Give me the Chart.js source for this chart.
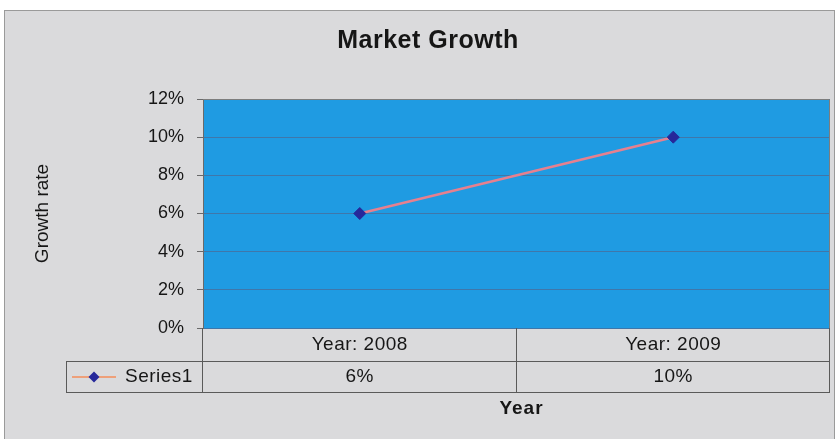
<!DOCTYPE html>
<html>
<head>
<meta charset="utf-8">
<title>Market Growth</title>
<script src="https://cdn.jsdelivr.net/npm/chart.js@4.4.1/dist/chart.umd.min.js"></script>
<style>
  html, body { margin: 0; padding: 0; background: #ffffff; }
  #wrap { width: 837px; height: 439px; }
</style>
</head>
<body>
<div id="wrap"><canvas id="chart" width="837" height="439"></canvas></div>
<script>
// ---- data ---------------------------------------------------------------
const years = ['2008', '2009'];
const categoryLabels = years.map((y) => 'Year: ' + y);
const seriesName = 'Series1';
const growthRates = [0.06, 0.10];
const yTickValues = [0, 0.02, 0.04, 0.06, 0.08, 0.10, 0.12];

// ---- look ---------------------------------------------------------------
const PAGE_BG = '#dadadc';
const PLOT_BG = '#1f9be2';
const GRID_BLUE = '#3f77aa';
const AXIS_GRAY = '#6a6a6a';
const TABLE_LINE = '#5a5a5a';
const INK = '#161616';
const LINE_COLOR = '#e6808f';
const MARKER_COLOR = '#26289a';
const FONT = '"Liberation Sans", Arial, sans-serif';

const pct = (v) => Math.round(v * 100) + '%';

function drawDiamond(ctx, x, y, r) {
  ctx.beginPath();
  ctx.moveTo(x, y - r);
  ctx.lineTo(x + r, y);
  ctx.lineTo(x, y + r);
  ctx.lineTo(x - r, y);
  ctx.closePath();
  ctx.fill();
}

// page frame, chart title and plot fill, underneath the grid
const backdrop = {
  id: 'backdrop',
  beforeDraw(chart) {
    const { ctx, chartArea: a, width, height } = chart;
    ctx.save();
    ctx.fillStyle = '#ffffff';
    ctx.fillRect(0, 0, width, height);
    ctx.fillStyle = PAGE_BG;
    ctx.fillRect(4, 10, width - 6, height - 10);
    ctx.strokeStyle = '#9a9a9a';
    ctx.lineWidth = 1;
    ctx.strokeRect(4.5, 10.5, width - 7, height);
    ctx.fillStyle = PLOT_BG;
    ctx.fillRect(a.left, a.top, a.right - a.left, a.bottom - a.top);

    ctx.fillStyle = INK;
    ctx.font = 'bold 25px ' + FONT;
    ctx.letterSpacing = '0.5px';
    ctx.textAlign = 'center';
    ctx.textBaseline = 'middle';
    ctx.fillText('Market Growth', 428, 41);
    ctx.restore();
  },
  afterDatasetsDraw(chart) {
    const { ctx, chartArea: a } = chart;
    ctx.save();
    ctx.strokeStyle = '#7d7d7d';
    ctx.lineWidth = 1;
    ctx.beginPath();
    ctx.moveTo(a.left, a.top + 0.5);
    ctx.lineTo(a.right - 0.5, a.top + 0.5);
    ctx.lineTo(a.right - 0.5, a.bottom);
    ctx.stroke();
    ctx.restore();
  }
};

// Excel-style data table under the plot: category row, series row, axis title
const dataTable = {
  id: 'dataTable',
  afterDraw(chart) {
    const { ctx, chartArea: a } = chart;
    const xs = chart.scales.x;
    const step = xs.getPixelForValue(1) - xs.getPixelForValue(0);
    const row1Top = a.bottom;
    const row2Top = a.bottom + 33;
    const row2Bottom = a.bottom + 64;
    const legendLeft = 66;

    ctx.save();
    ctx.strokeStyle = TABLE_LINE;
    ctx.lineWidth = 1;
    ctx.beginPath();
    // horizontals
    ctx.moveTo(legendLeft, row2Top + 0.5);
    ctx.lineTo(a.right, row2Top + 0.5);
    ctx.moveTo(legendLeft, row2Bottom + 0.5);
    ctx.lineTo(a.right, row2Bottom + 0.5);
    // legend cell left edge
    ctx.moveTo(legendLeft + 0.5, row2Top);
    ctx.lineTo(legendLeft + 0.5, row2Bottom);
    // category boundaries
    const bounds = [a.left];
    years.forEach((_, i) => bounds.push(xs.getPixelForValue(i) + step / 2));
    bounds.forEach((bx) => {
      const x = Math.round(bx) - 0.5;
      ctx.moveTo(x, row1Top);
      ctx.lineTo(x, row2Bottom + 1);
    });
    ctx.stroke();

    ctx.fillStyle = INK;
    ctx.font = '19px ' + FONT;
    ctx.letterSpacing = '0.5px';
    ctx.textAlign = 'center';
    ctx.textBaseline = 'middle';
    categoryLabels.forEach((lab, i) => {
      ctx.fillText(lab, xs.getPixelForValue(i), row1Top + 17);
    });
    growthRates.forEach((v, i) => {
      ctx.fillText(pct(v), xs.getPixelForValue(i), row2Top + 16);
    });

    // legend key
    const ky = row2Top + 16;
    ctx.strokeStyle = '#eea07a';
    ctx.lineWidth = 2;
    ctx.beginPath();
    ctx.moveTo(72, ky);
    ctx.lineTo(116, ky);
    ctx.stroke();
    ctx.fillStyle = MARKER_COLOR;
    drawDiamond(ctx, 94, ky, 5.5);
    ctx.fillStyle = INK;
    ctx.textAlign = 'left';
    ctx.fillText(seriesName, 125, ky);

    // axis title
    ctx.font = 'bold 19px ' + FONT;
    ctx.letterSpacing = '1px';
    ctx.textAlign = 'center';
    ctx.fillText('Year', (a.left + a.right) / 2 + 5, row2Bottom + 17);
    ctx.restore();
  }
};

new Chart(document.getElementById('chart'), {
  type: 'line',
  data: {
    labels: categoryLabels,
    datasets: [{
      label: seriesName,
      data: growthRates,
      borderColor: LINE_COLOR,
      borderWidth: 2.5,
      pointStyle: 'rectRot',
      pointRadius: 6,
      pointBackgroundColor: MARKER_COLOR,
      pointBorderColor: MARKER_COLOR,
      pointBorderWidth: 1,
      tension: 0,
    }],
  },
  options: {
    responsive: false,
    animation: false,
    devicePixelRatio: 1,
    layout: { padding: { left: 0, right: 4, top: 99, bottom: 0 } },
    plugins: {
      legend: { display: false },
      tooltip: { enabled: false },
      title: { display: false },
    },
    scales: {
      x: {
        type: 'category',
        offset: true,
        grid: { display: false },
        border: { display: false },
        ticks: { display: false },
        afterFit(scale) { scale.height = 111; },
      },
      y: {
        min: 0,
        max: 0.12,
        afterBuildTicks(scale) { scale.ticks = yTickValues.map((v) => ({ value: v })); },
        ticks: {
          color: INK,
          font: { family: FONT, size: 18 },
          padding: 13,
          callback: (v) => pct(v),
        },
        grid: {
          color: GRID_BLUE,
          tickColor: AXIS_GRAY,
          tickLength: 6,
          lineWidth: 1,
        },
        border: { color: AXIS_GRAY, width: 1 },
        title: {
          display: true,
          text: 'Growth rate',
          color: INK,
          font: { family: FONT, size: 19 },
          padding: { top: 31, bottom: 0 },
        },
        afterFit(scale) { scale.width = 203; },
      },
    },
  },
  plugins: [backdrop, dataTable],
});
</script>
</body>
</html>
